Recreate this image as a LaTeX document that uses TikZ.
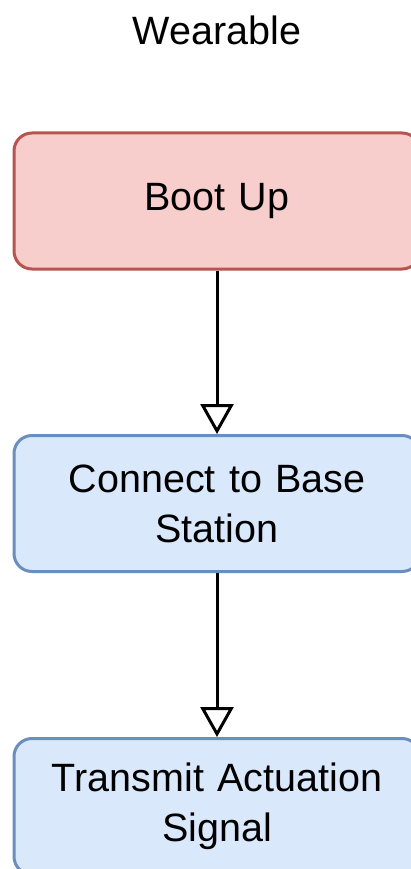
\documentclass[tikz,border=0pt]{standalone}
\usepackage{fontspec}
\setmainfont{Liberation Sans}
\usetikzlibrary{arrows.meta}
\definecolor{redfill}{HTML}{F8CECC}
\definecolor{redline}{HTML}{B85450}
\definecolor{bluefill}{HTML}{DAE8FC}
\definecolor{blueline}{HTML}{6C8EBF}
\tikzset{
  stepbox/.style={rectangle, rounded corners=18pt, line width=3pt,
    minimum width=406pt, minimum height=136pt, text width=390pt,
    align=center, inner sep=0pt, font=\fontsize{39.5}{50}\selectfont},
  redbox/.style={stepbox, draw=redline, fill=redfill},
  bluebox/.style={stepbox, draw=blueline, fill=bluefill},
  flow/.style={line width=3pt, draw=black,
    -{Triangle[open, length=30pt, width=33pt, line width=3pt]}}
}
\begin{document}
\begin{tikzpicture}[x=1pt, y=-1pt]
  \useasboundingbox (0,0) rectangle (411,869);
  \clip (0,0) rectangle (411,869);
  \fill[white] (0,0) rectangle (411,869);
  \node[anchor=base, font=\fontsize{39.5}{47}\selectfont] (title) at (217,45) {Wearable};
  \node[redbox] (boot) at (217,201) {Boot Up};
  \node[bluebox] (conn) at (217,503.5) {Connect to Base\\Station};
  \node[bluebox] (trans) at (217,806.5) {Transmit Actuation\\Signal};
  \draw[flow] (boot) -- (conn);
  \draw[flow] (conn) -- (trans);
\end{tikzpicture}
\end{document}
